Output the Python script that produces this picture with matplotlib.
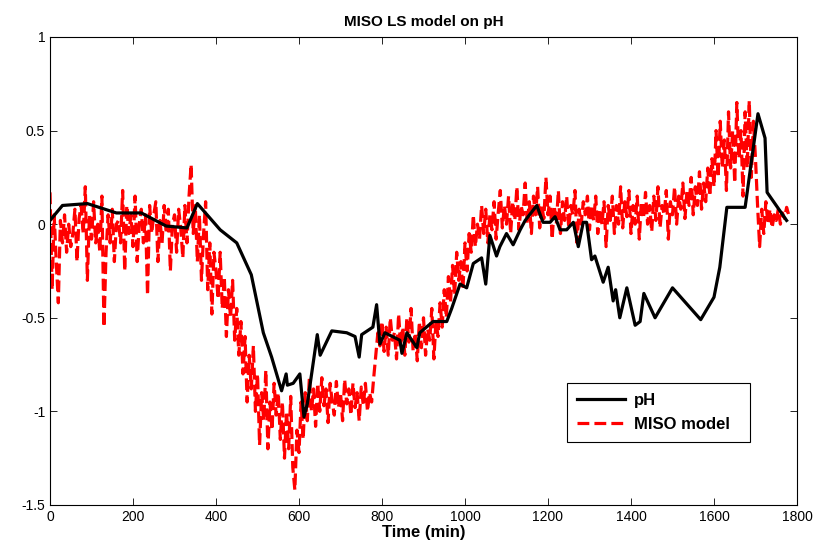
import numpy as np
import matplotlib
matplotlib.use("Agg")
import matplotlib.pyplot as plt

plt.rcParams["font.family"] = ["Liberation Sans", "DejaVu Sans"]
plt.rcParams["axes.unicode_minus"] = False

# --- measured pH (irregular samples) ---
ph_t = [0, 30, 90, 160, 220, 280, 330, 355, 410, 450, 485, 514, 534, 558, 569,
        572, 586, 602, 612, 620, 644, 651, 679, 715, 735, 745, 751, 778, 787,
        795, 807, 843, 848, 860, 884, 891, 923, 956, 968, 988, 1004, 1020, 1040,
        1050, 1060, 1076, 1084, 1100, 1116, 1133, 1145, 1173, 1188, 1205, 1217,
        1229, 1245, 1261, 1273, 1285, 1293, 1305, 1313, 1333, 1345, 1357, 1363,
        1373, 1390, 1410, 1422, 1431, 1458, 1500, 1568, 1600, 1614, 1631, 1675,
        1706, 1723, 1728, 1775]
ph_vals = [0.02, 0.10, 0.11, 0.06, 0.06, -0.01, -0.02, 0.11, -0.03, -0.10,
           -0.27, -0.58, -0.71, -0.89, -0.80, -0.86, -0.85, -0.80, -1.03, -0.96,
           -0.59, -0.70, -0.57, -0.58, -0.60, -0.71, -0.59, -0.55, -0.43, -0.64,
           -0.58, -0.62, -0.69, -0.58, -0.66, -0.58, -0.52, -0.52, -0.45, -0.32,
           -0.34, -0.21, -0.18, -0.32, -0.06, -0.17, -0.12, -0.05, -0.11, -0.03,
           0.02, 0.10, 0.01, 0.01, 0.04, -0.03, -0.03, 0.01, -0.12, 0.01, 0.01,
           -0.19, -0.17, -0.31, -0.23, -0.41, -0.35, -0.50, -0.34, -0.54, -0.52,
           -0.37, -0.50, -0.34, -0.51, -0.39, -0.23, 0.09, 0.09, 0.59, 0.46,
           0.17, 0.02]

# --- MISO model output, one value every 5 min from t=0 ---
model_vals = [
    0.17, -0.35, 0.05, -0.20, -0.42, 0.02, -0.10, 0.05, -0.15, 0.00,       # 0
    -0.12, -0.05, 0.08, -0.20, 0.03, 0.10, -0.05, 0.20, -0.30, 0.05,       # 50
    -0.08, 0.12, -0.10, 0.00, -0.15, 0.15, -0.55, -0.15, 0.05, -0.10,      # 100
    0.08, -0.20, 0.00, 0.02, -0.10, 0.18, -0.25, 0.10, -0.05, 0.05,        # 150
    -0.12, 0.15, -0.20, 0.00, 0.08, -0.10, 0.05, -0.38, 0.10, -0.05,       # 200
    0.05, 0.12, -0.20, 0.02, -0.10, 0.10, -0.05, 0.08, -0.25, 0.00,        # 250
    0.05, -0.15, 0.08, -0.02, -0.18, 0.10, -0.10, 0.15, 0.32, -0.05,       # 300
    0.10, -0.20, 0.05, -0.30, -0.05, 0.12, -0.35, -0.10, -0.48, -0.15,     # 350
    -0.25, -0.40, -0.15, -0.45, -0.28, -0.60, -0.35, -0.50, -0.30, -0.62,  # 400
    -0.45, -0.70, -0.52, -0.80, -0.60, -0.95, -0.70, -0.88, -0.65, -1.00,  # 450
    -0.80, -1.18, -0.90, -1.05, -0.78, -1.20, -0.95, -1.10, -0.85, -1.02,  # 500
    -0.90, -1.15, -0.95, -1.25, -1.00, -1.20, -0.92, -1.30, -1.42, -1.10,  # 550
    -1.22, -0.95, -1.15, -0.90, -1.05, -0.82, -1.00, -0.88, -1.08, -0.85,  # 600
    -1.00, -0.82, -0.97, -0.88, -1.06, -0.85, -0.95, -1.02, -0.84, -0.98,  # 650
    -0.90, -1.05, -0.83, -0.96, -0.88, -1.02, -0.85, -0.98, -0.90, -1.05,  # 700
    -0.87, -0.97, -0.85, -1.00, -0.90, -0.95, -0.82, -0.70, -0.58, -0.65,  # 750
    -0.52, -0.68, -0.55, -0.70, -0.50, -0.62, -0.58, -0.72, -0.48, -0.65,  # 800
    -0.55, -0.70, -0.50, -0.63, -0.45, -0.68, -0.58, -0.73, -0.52, -0.66,  # 850
    -0.50, -0.70, -0.56, -0.62, -0.45, -0.72, -0.52, -0.60, -0.42, -0.55,  # 900
    -0.35, -0.50, -0.28, -0.42, -0.22, -0.38, -0.15, -0.30, -0.20, -0.35,  # 950
    -0.10, -0.25, -0.05, -0.15, 0.05, -0.12, 0.00, -0.08, 0.10, -0.05,     # 1000
    0.08, -0.10, 0.05, -0.03, 0.12, -0.08, 0.06, 0.18, -0.02, 0.10,        # 1050
    0.00, 0.15, -0.05, 0.12, 0.02, 0.20, -0.03, 0.10, 0.05, 0.22,          # 1100
    0.00, 0.12, -0.05, 0.15, 0.05, 0.20, -0.02, 0.10, 0.03, 0.25,          # 1150
    0.05, 0.15, -0.08, 0.10, 0.00, 0.18, -0.05, 0.12, 0.02, 0.15,          # 1200
    -0.02, 0.10, 0.05, 0.18, -0.10, 0.08, 0.00, 0.12, 0.05, 0.15,          # 1250
    -0.03, 0.10, 0.02, 0.15, -0.05, 0.08, 0.00, 0.12, -0.12, 0.10,         # 1300
    0.02, 0.15, -0.05, 0.10, 0.00, 0.20, -0.02, 0.12, 0.04, 0.18,          # 1350
    -0.05, 0.10, 0.00, 0.15, -0.08, 0.12, 0.03, 0.17, 0.00, 0.10,          # 1400
    -0.04, 0.15, 0.02, 0.20, -0.02, 0.10, 0.05, 0.18, -0.08, 0.12,         # 1450
    0.05, 0.20, 0.00, 0.15, 0.08, 0.22, 0.03, 0.18, 0.10, 0.25,            # 1500
    0.05, 0.20, 0.10, 0.28, 0.08, 0.22, 0.12, 0.30, 0.15, 0.35,            # 1550
    0.20, 0.50, 0.25, 0.55, 0.30, 0.45, 0.18, 0.60, 0.30, 0.50,            # 1600
    0.22, 0.65, 0.35, 0.50, 0.15, 0.60, 0.30, 0.66, 0.25, 0.55,            # 1650
    0.35, 0.10, -0.12, 0.08, -0.05, 0.12, 0.00, 0.08, -0.02, 0.05,         # 1700
    0.02, 0.08, 0.00, 0.06, 0.03, 0.09, 0.05,                              # 1750
]
model_t = np.arange(len(model_vals)) * 5

fig = plt.figure(figsize=(8.16, 5.57), dpi=100)
ax = fig.add_axes([0.0613, 0.0934, 0.9154, 0.8402])

ax.plot(ph_t, ph_vals, color="black", linewidth=2.3, label="pH", zorder=3)
ax.plot(model_t, model_vals, color="red", linestyle="--", linewidth=2.3,
        label="MISO model", zorder=2)

ax.set_xlim(0, 1800)
ax.set_ylim(-1.5, 1)
ax.set_xticks(np.arange(0, 1801, 200))
ax.set_yticks([-1.5, -1, -0.5, 0, 0.5, 1])
ax.set_yticklabels(["-1.5", "-1", "-0.5", "0", "0.5", "1"])
ax.tick_params(direction="in", top=True, right=True, length=5, width=0.6,
               labelsize=10, colors="black")
for s in ax.spines.values():
    s.set_linewidth(0.8)

ax.set_title("MISO LS model on pH", fontsize=11, fontweight="bold", pad=8)
ax.set_xlabel("Time (min)", fontsize=12, fontweight="bold", labelpad=1)

leg = ax.legend(loc="lower left", bbox_to_anchor=(0.692, 0.135, 0.245, 0.126),
                mode="expand", borderaxespad=0, fancybox=False, framealpha=1,
                edgecolor="black", prop={"weight": "bold", "size": 12},
                handlelength=2.9, handletextpad=0.5, borderpad=0.6,
                labelspacing=0.55)
leg.get_frame().set_linewidth(0.8)

fig.savefig("out.png", dpi=100)
